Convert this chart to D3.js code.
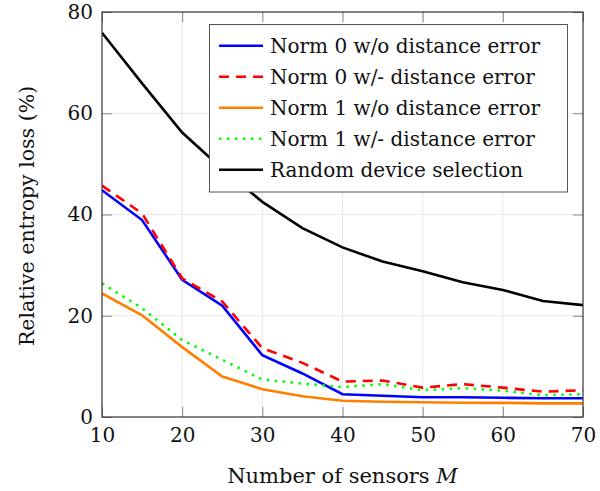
<!DOCTYPE html>
<html><head><meta charset="utf-8">
<script src="https://cdn.jsdelivr.net/npm/d3@7"></script>
<style>body{margin:0;background:#fff}svg{display:block}text{font-family:"DejaVu Serif","Liberation Serif",serif}</style>
</head><body><svg id="c" width="600" height="491"></svg>
<script>
const sensors = [10,15,20,25,30,35,40,45,50,55,60,65,70];
const norm0NoErr = [44.8,38.9,27.1,22.0,12.2,8.6,4.5,4.2,3.9,3.9,3.8,3.7,3.7];
const norm0Err   = [45.7,40.2,27.4,22.8,13.6,10.7,7.0,7.2,5.8,6.5,5.8,5.0,5.3];
const norm1NoErr = [24.4,20.1,13.8,8.0,5.5,4.1,3.2,3.0,2.9,2.8,2.8,2.7,2.7];
const norm1Err   = [26.4,21.5,15.2,11.3,7.4,6.6,5.9,6.5,5.3,5.7,5.2,4.3,4.5];
const randomSel  = [75.9,65.9,56.2,49.0,42.5,37.3,33.5,30.7,28.8,26.6,25.1,22.9,22.1];
const seriesNames = ["Norm 0 w/o distance error","Norm 0 w/- distance error","Norm 1 w/o distance error","Norm 1 w/- distance error","Random device selection"];
const xTicks = [10,20,30,40,50,60,70];
const yTicks = [0,20,40,60,80];

const series = [
  {name:seriesNames[0], values:norm0NoErr, color:"#0000ff", dash:null},
  {name:seriesNames[1], values:norm0Err, color:"#ff0000", dash:"10,7"},
  {name:seriesNames[2], values:norm1NoErr, color:"#ff8000", dash:null},
  {name:seriesNames[3], values:norm1Err, color:"#00ff00", dash:"2.5,5.5"},
  {name:seriesNames[4], values:randomSel, color:"#000000", dash:null}
];

const svg = d3.select("#c");
const L=102, R=583, T=12, B=417;
const x = d3.scaleLinear().domain([10,70]).range([L,R]);
const y = d3.scaleLinear().domain([0,80]).range([B,T]);
const fs = 20;

// grid
svg.append("g").selectAll("line").data(xTicks.slice(1,-1)).join("line")
  .attr("x1",d=>x(d)).attr("x2",d=>x(d)).attr("y1",T).attr("y2",B)
  .attr("stroke","#e8e8e8").attr("stroke-width",1);
svg.append("g").selectAll("line").data(yTicks.slice(1,-1)).join("line")
  .attr("y1",d=>y(d)).attr("y2",d=>y(d)).attr("x1",L).attr("x2",R)
  .attr("stroke","#e8e8e8").attr("stroke-width",1);

// axes with inner ticks
const tickLen = 10;
const gx = svg.append("g").attr("transform",`translate(0,${B})`)
  .call(d3.axisBottom(x).tickValues(xTicks).tickSizeInner(-tickLen).tickSizeOuter(0).tickPadding(10.5));
const gxt = svg.append("g").attr("transform",`translate(0,${T})`)
  .call(d3.axisTop(x).tickValues(xTicks).tickSizeInner(-tickLen).tickSizeOuter(0).tickFormat(""));
const gy = svg.append("g").attr("transform",`translate(${L},0)`)
  .call(d3.axisLeft(y).tickValues(yTicks).tickSizeInner(-tickLen).tickSizeOuter(0).tickPadding(9));
const gyr = svg.append("g").attr("transform",`translate(${R},0)`)
  .call(d3.axisRight(y).tickValues(yTicks).tickSizeInner(-tickLen).tickSizeOuter(0).tickFormat(""));
[gx,gxt,gy,gyr].forEach(g=>{
  g.select(".domain").remove();
  g.selectAll(".tick line").attr("stroke","#888").attr("stroke-width",1);
  g.selectAll("text").attr("font-size",fs).attr("fill","#111").style("font-family",'"DejaVu Serif",serif');
});

// lines
const line = d3.line().x((d,i)=>x(sensors[i])).y(d=>y(d));
svg.append("clipPath").attr("id","pc").append("rect").attr("x",L).attr("y",T).attr("width",R-L).attr("height",B-T);
svg.append("g").attr("clip-path","url(#pc)").selectAll("path").data(series).join("path")
  .attr("d",d=>line(d.values)).attr("fill","none").attr("stroke",d=>d.color)
  .attr("stroke-width",2.6).attr("stroke-dasharray",d=>d.dash);

// frame
svg.append("rect").attr("x",L).attr("y",T).attr("width",R-L).attr("height",B-T)
  .attr("fill","none").attr("stroke","#333").attr("stroke-width",1.2);

// legend
const lg = svg.append("g");
lg.append("rect").attr("x",209.5).attr("y",24.5).attr("width",358).attr("height",167.5)
  .attr("fill","#fff").attr("stroke","#555").attr("stroke-width",1);
series.forEach((s,i)=>{
  const yy = 45.7 + i*31;
  lg.append("line").attr("x1",219).attr("x2",263).attr("y1",yy).attr("y2",yy)
    .attr("stroke",s.color).attr("stroke-width",2.6).attr("stroke-dasharray",s.dash);
  lg.append("text").attr("x",270).attr("y",yy).attr("dy","0.35em").attr("font-size",fs)
    .attr("fill","#111").text(s.name);
});

// axis titles
const xt = svg.append("text").attr("x",(L+R)/2).attr("y",483).attr("text-anchor","middle")
  .attr("font-size",21).attr("fill","#111");
xt.append("tspan").text("Number of sensors ");
xt.append("tspan").attr("font-style","italic").text("M");
svg.append("text").attr("transform",`translate(34,216) rotate(-90)`)
  .attr("text-anchor","middle").attr("font-size",20.5).attr("fill","#111")
  .text("Relative entropy loss (%)");
</script></body></html>
